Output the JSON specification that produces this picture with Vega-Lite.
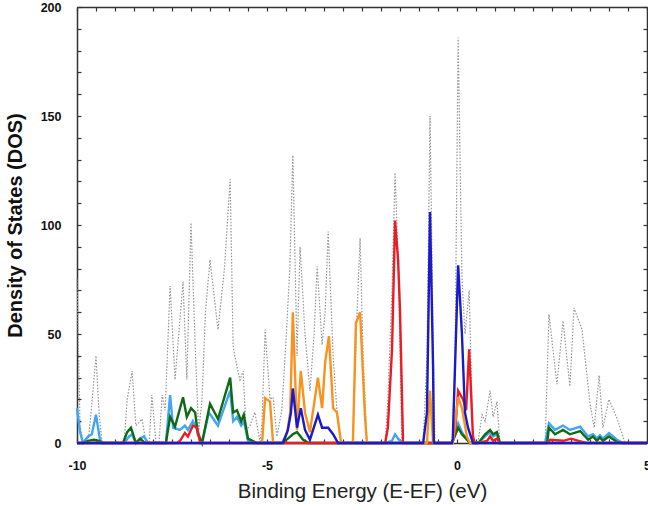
{
  "$schema": "https://vega.github.io/schema/vega-lite/v6.json",
  "width": 570,
  "height": 436,
  "autosize": {"type": "none"},
  "padding": {"left": 77, "top": 7, "right": 1, "bottom": 67},
  "background": "white",
  "config": {"view": {"stroke": null}, "font": "Liberation Sans"},
  "datasets": {
    "total": [
      {"E": -10, "D": 75}, {"E": -9.92, "D": 8}, {"E": -9.84, "D": 0}, {"E": -9.71, "D": 0}, {"E": -9.63, "D": 14}, {"E": -9.5, "D": 40}, {"E": -9.42, "D": 14}, {"E": -9.34, "D": 0},
      {"E": -8.76, "D": 0}, {"E": -8.68, "D": 20}, {"E": -8.55, "D": 33}, {"E": -8.45, "D": 8}, {"E": -8.39, "D": 9}, {"E": -8.29, "D": 11}, {"E": -8.18, "D": 0}, {"E": -8.1, "D": 0}, {"E": -8.03, "D": 22}, {"E": -7.92, "D": 0}, {"E": -7.84, "D": 0},
      {"E": -7.76, "D": 22}, {"E": -7.68, "D": 15}, {"E": -7.55, "D": 72}, {"E": -7.42, "D": 29}, {"E": -7.21, "D": 74}, {"E": -7.11, "D": 29}, {"E": -7.0, "D": 101}, {"E": -6.89, "D": 45}, {"E": -6.8, "D": 5}, {"E": -6.71, "D": 20}, {"E": -6.62, "D": 60}, {"E": -6.5, "D": 84}, {"E": -6.29, "D": 52}, {"E": -6.12, "D": 80},
      {"E": -5.97, "D": 121}, {"E": -5.89, "D": 44}, {"E": -5.79, "D": 35}, {"E": -5.71, "D": 29}, {"E": -5.63, "D": 33}, {"E": -5.55, "D": 6}, {"E": -5.45, "D": 8}, {"E": -5.32, "D": 14}, {"E": -5.18, "D": 0}, {"E": -5.13, "D": 10}, {"E": -5.05, "D": 52}, {"E": -4.92, "D": 20}, {"E": -4.84, "D": 21}, {"E": -4.74, "D": 3},
      {"E": -4.61, "D": 15}, {"E": -4.5, "D": 47}, {"E": -4.4, "D": 80}, {"E": -4.32, "D": 132}, {"E": -4.21, "D": 40}, {"E": -4.13, "D": 90}, {"E": -4.0, "D": 50}, {"E": -3.87, "D": 24}, {"E": -3.76, "D": 50}, {"E": -3.68, "D": 81}, {"E": -3.55, "D": 45}, {"E": -3.47, "D": 60}, {"E": -3.39, "D": 97}, {"E": -3.26, "D": 40}, {"E": -3.16, "D": 15}, {"E": -3.05, "D": 0},
      {"E": -2.74, "D": 0}, {"E": -2.63, "D": 60}, {"E": -2.55, "D": 94}, {"E": -2.47, "D": 40}, {"E": -2.37, "D": 0},
      {"E": -1.89, "D": 0}, {"E": -1.82, "D": 20}, {"E": -1.71, "D": 70}, {"E": -1.63, "D": 124}, {"E": -1.55, "D": 85}, {"E": -1.45, "D": 0},
      {"E": -0.89, "D": 0}, {"E": -0.79, "D": 40}, {"E": -0.71, "D": 150}, {"E": -0.63, "D": 50}, {"E": -0.58, "D": 0},
      {"E": -0.13, "D": 0}, {"E": -0.05, "D": 40}, {"E": 0.03, "D": 186}, {"E": 0.13, "D": 76}, {"E": 0.21, "D": 50}, {"E": 0.32, "D": 70}, {"E": 0.42, "D": 0},
      {"E": 0.55, "D": 0}, {"E": 0.66, "D": 13}, {"E": 0.74, "D": 10}, {"E": 0.87, "D": 24}, {"E": 0.95, "D": 12}, {"E": 1.05, "D": 19}, {"E": 1.13, "D": 0},
      {"E": 2.32, "D": 0}, {"E": 2.42, "D": 59}, {"E": 2.63, "D": 27}, {"E": 2.79, "D": 56}, {"E": 2.97, "D": 26}, {"E": 3.08, "D": 62}, {"E": 3.29, "D": 52}, {"E": 3.5, "D": 18}, {"E": 3.61, "D": 7}, {"E": 3.74, "D": 31}, {"E": 3.84, "D": 7}, {"E": 4.0, "D": 20}, {"E": 4.24, "D": 10}, {"E": 4.42, "D": 0}, {"E": 5, "D": 0}
    ],
    "lightblue": [
      {"E": -10, "D": 16}, {"E": -9.92, "D": 5}, {"E": -9.84, "D": 0}, {"E": -9.71, "D": 3}, {"E": -9.61, "D": 4}, {"E": -9.5, "D": 13}, {"E": -9.4, "D": 2}, {"E": -9.34, "D": 0},
      {"E": -8.76, "D": 0}, {"E": -8.63, "D": 3}, {"E": -8.55, "D": 4}, {"E": -8.45, "D": 0}, {"E": -8.34, "D": 2}, {"E": -8.24, "D": 3}, {"E": -8.13, "D": 0},
      {"E": -7.66, "D": 0}, {"E": -7.55, "D": 22}, {"E": -7.47, "D": 7}, {"E": -7.29, "D": 6}, {"E": -7.16, "D": 8}, {"E": -7.08, "D": 6}, {"E": -6.95, "D": 10}, {"E": -6.84, "D": 6}, {"E": -6.71, "D": 0},
      {"E": -6.53, "D": 14}, {"E": -6.29, "D": 8}, {"E": -5.97, "D": 24}, {"E": -5.89, "D": 10}, {"E": -5.79, "D": 12}, {"E": -5.68, "D": 8}, {"E": -5.61, "D": 10}, {"E": -5.5, "D": 1}, {"E": -5.4, "D": 0},
      {"E": -1.89, "D": 0}, {"E": -1.71, "D": 1}, {"E": -1.63, "D": 4}, {"E": -1.55, "D": 2}, {"E": -1.45, "D": 0},
      {"E": -0.13, "D": 0}, {"E": 0.03, "D": 9}, {"E": 0.13, "D": 5}, {"E": 0.24, "D": 2}, {"E": 0.34, "D": 0},
      {"E": 0.55, "D": 0}, {"E": 0.74, "D": 3}, {"E": 0.87, "D": 5}, {"E": 0.95, "D": 3}, {"E": 1.05, "D": 4}, {"E": 1.13, "D": 0},
      {"E": 2.32, "D": 0}, {"E": 2.42, "D": 9}, {"E": 2.58, "D": 6}, {"E": 2.79, "D": 8}, {"E": 2.97, "D": 6}, {"E": 3.24, "D": 7.5}, {"E": 3.45, "D": 3}, {"E": 3.58, "D": 4}, {"E": 3.68, "D": 2}, {"E": 3.76, "D": 3.5}, {"E": 3.84, "D": 2}, {"E": 4.0, "D": 4.5}, {"E": 4.21, "D": 1.5}, {"E": 4.37, "D": 0}, {"E": 5, "D": 0}
    ],
    "green": [
      {"E": -10, "D": 0}, {"E": -9.84, "D": 0}, {"E": -9.71, "D": 1}, {"E": -9.55, "D": 1.5}, {"E": -9.42, "D": 1}, {"E": -9.34, "D": 0},
      {"E": -8.79, "D": 0}, {"E": -8.68, "D": 5}, {"E": -8.58, "D": 7}, {"E": -8.45, "D": 0}, {"E": -8.34, "D": 2}, {"E": -8.21, "D": 0},
      {"E": -7.66, "D": 0}, {"E": -7.55, "D": 12}, {"E": -7.42, "D": 7.5}, {"E": -7.21, "D": 21}, {"E": -7.11, "D": 12}, {"E": -7.0, "D": 16}, {"E": -6.89, "D": 14}, {"E": -6.82, "D": 4}, {"E": -6.71, "D": 0},
      {"E": -6.5, "D": 18}, {"E": -6.29, "D": 11}, {"E": -5.97, "D": 30}, {"E": -5.89, "D": 14}, {"E": -5.79, "D": 15}, {"E": -5.68, "D": 10}, {"E": -5.61, "D": 13}, {"E": -5.5, "D": 2}, {"E": -5.26, "D": 0},
      {"E": -4.61, "D": 0}, {"E": -4.45, "D": 2}, {"E": -4.32, "D": 4}, {"E": -4.21, "D": 5}, {"E": -4.05, "D": 1.5}, {"E": -3.9, "D": 0},
      {"E": -0.13, "D": 0}, {"E": 0.03, "D": 7}, {"E": 0.13, "D": 4}, {"E": 0.24, "D": 2}, {"E": 0.34, "D": 0},
      {"E": 0.55, "D": 0}, {"E": 0.61, "D": 1}, {"E": 0.74, "D": 4}, {"E": 0.87, "D": 6}, {"E": 0.95, "D": 4}, {"E": 1.05, "D": 5}, {"E": 1.13, "D": 0},
      {"E": 2.37, "D": 0}, {"E": 2.42, "D": 7}, {"E": 2.58, "D": 4}, {"E": 2.79, "D": 6}, {"E": 2.97, "D": 4}, {"E": 3.24, "D": 5.5}, {"E": 3.45, "D": 1.5}, {"E": 3.58, "D": 3}, {"E": 3.68, "D": 1}, {"E": 3.76, "D": 2.5}, {"E": 3.84, "D": 1}, {"E": 4.0, "D": 3}, {"E": 4.21, "D": 0.5}, {"E": 4.37, "D": 0}, {"E": 5, "D": 0}
    ],
    "red": [
      {"E": -10, "D": 0}, {"E": -7.37, "D": 0}, {"E": -7.29, "D": 1}, {"E": -7.16, "D": 4.6}, {"E": -7.08, "D": 3}, {"E": -6.95, "D": 8}, {"E": -6.84, "D": 7}, {"E": -6.76, "D": 0},
      {"E": -1.89, "D": 0}, {"E": -1.82, "D": 7}, {"E": -1.71, "D": 43}, {"E": -1.63, "D": 102}, {"E": -1.55, "D": 84}, {"E": -1.5, "D": 61}, {"E": -1.42, "D": 0},
      {"E": -0.13, "D": 0}, {"E": -0.05, "D": 5}, {"E": 0.03, "D": 24}, {"E": 0.16, "D": 20}, {"E": 0.24, "D": 15}, {"E": 0.32, "D": 43}, {"E": 0.42, "D": 3}, {"E": 0.47, "D": 0},
      {"E": 0.55, "D": 0}, {"E": 0.79, "D": 1}, {"E": 0.87, "D": 3}, {"E": 0.95, "D": 1}, {"E": 1.05, "D": 2}, {"E": 1.13, "D": 0},
      {"E": 2.37, "D": 0}, {"E": 2.45, "D": 1.5}, {"E": 2.8, "D": 1}, {"E": 3.0, "D": 2}, {"E": 3.2, "D": 1}, {"E": 3.4, "D": 0}, {"E": 5, "D": 0}
    ],
    "orange": [
      {"E": -10, "D": 0}, {"E": -5.13, "D": 0}, {"E": -5.05, "D": 20.6}, {"E": -4.92, "D": 19}, {"E": -4.84, "D": 0},
      {"E": -4.61, "D": 0}, {"E": -4.47, "D": 4.6}, {"E": -4.39, "D": 14}, {"E": -4.32, "D": 60}, {"E": -4.21, "D": 6}, {"E": -4.11, "D": 33}, {"E": -4.0, "D": 14}, {"E": -3.87, "D": 5}, {"E": -3.66, "D": 30}, {"E": -3.55, "D": 16}, {"E": -3.47, "D": 37}, {"E": -3.37, "D": 49}, {"E": -3.26, "D": 16}, {"E": -3.16, "D": 14}, {"E": -3.05, "D": 0},
      {"E": -2.74, "D": 0}, {"E": -2.66, "D": 55}, {"E": -2.55, "D": 60}, {"E": -2.47, "D": 30}, {"E": -2.42, "D": 12}, {"E": -2.37, "D": 0},
      {"E": -0.79, "D": 0}, {"E": -0.71, "D": 24}, {"E": -0.63, "D": 0},
      {"E": -0.11, "D": 0}, {"E": 0.03, "D": 21}, {"E": 0.13, "D": 16}, {"E": 0.26, "D": 3}, {"E": 0.34, "D": 0}, {"E": 5, "D": 0}
    ],
    "blue": [
      {"E": -10, "D": 0}, {"E": -4.58, "D": 0}, {"E": -4.45, "D": 6}, {"E": -4.37, "D": 14}, {"E": -4.32, "D": 25}, {"E": -4.21, "D": 7}, {"E": -4.11, "D": 16}, {"E": -4.0, "D": 6}, {"E": -3.87, "D": 1.5}, {"E": -3.66, "D": 13}, {"E": -3.55, "D": 7}, {"E": -3.39, "D": 7}, {"E": -3.26, "D": 4}, {"E": -3.13, "D": 0},
      {"E": -0.89, "D": 0}, {"E": -0.79, "D": 14}, {"E": -0.71, "D": 106}, {"E": -0.63, "D": 35}, {"E": -0.61, "D": 0},
      {"E": -0.13, "D": 0}, {"E": -0.11, "D": 2}, {"E": 0.03, "D": 81.5}, {"E": 0.13, "D": 50}, {"E": 0.21, "D": 14}, {"E": 0.29, "D": 7}, {"E": 0.42, "D": 0}, {"E": 5, "D": 0}
    ]
  },
  "layer": [
    {
      "data": {"name": "total"},
      "mark": {"type": "line", "color": "#949494", "strokeWidth": 1.2, "strokeDash": [1.5, 1.6]},
      "encoding": {
        "x": {"field": "E", "type": "quantitative", "scale": {"domain": [-10, 5], "nice": false, "zero": false},
          "axis": {"orient": "bottom", "values": [-10,-9.5,-9,-8.5,-8,-7.5,-7,-6.5,-6,-5.5,-5,-4.5,-4,-3.5,-3,-2.5,-2,-1.5,-1,-0.5,0,0.5,1,1.5,2,2.5,3,3.5,4,4.5,5],
            "labelExpr": "datum.value % 5 === 0 ? toString(datum.value) : ''", "labelOverlap": false, "labelFlush": false,
            "labelFontWeight": "bold", "labelFontSize": 12.5, "labelColor": "#111", "labelPadding": 20,
            "tickSize": -4, "tickColor": "#333", "tickWidth": 1.2, "domainColor": "#333", "domainWidth": 1.5, "grid": false,
            "title": "Binding Energy (E-EF) (eV)", "titleFontSize": 20.5, "titleFontWeight": "normal", "titleColor": "#222", "titlePadding": 10}},
        "y": {"field": "D", "type": "quantitative", "scale": {"domain": [0, 200], "nice": false},
          "axis": {"orient": "left", "values": [0,10,20,30,40,50,60,70,80,90,100,110,120,130,140,150,160,170,180,190,200],
            "labelExpr": "datum.value % 50 === 0 ? toString(datum.value) : ''", "labelOverlap": false, "labelFlush": false,
            "labelFontWeight": "bold", "labelFontSize": 12.5, "labelColor": "#111", "labelPadding": 20,
            "tickSize": -4, "tickColor": "#333", "tickWidth": 1.2, "domainColor": "#333", "domainWidth": 1.5, "grid": false,
            "title": "Density of States (DOS)", "titleFontSize": 20, "titleFontWeight": "bold", "titleColor": "#111", "titlePadding": 15}}
      }
    },
    {
      "data": {"name": "lightblue"},
      "mark": {"type": "line", "color": "#40a6f2", "strokeWidth": 2.4},
      "encoding": {
        "x": {"field": "E", "type": "quantitative",
          "axis": {"orient": "top", "values": [-10,-9.5,-9,-8.5,-8,-7.5,-7,-6.5,-6,-5.5,-5,-4.5,-4,-3.5,-3,-2.5,-2,-1.5,-1,-0.5,0,0.5,1,1.5,2,2.5,3,3.5,4,4.5,5],
            "labels": false, "tickSize": -4, "tickColor": "#333", "tickWidth": 1.2, "domainColor": "#333", "domainWidth": 1.5, "grid": false, "title": null}},
        "y": {"field": "D", "type": "quantitative",
          "axis": {"orient": "right", "values": [0,10,20,30,40,50,60,70,80,90,100,110,120,130,140,150,160,170,180,190,200],
            "labels": false, "tickSize": -4, "tickColor": "#333", "tickWidth": 1.2, "domainColor": "#333", "domainWidth": 1.5, "grid": false, "title": null}}
      }
    },
    {
      "data": {"name": "green"},
      "mark": {"type": "line", "color": "#0e6b14", "strokeWidth": 2.4},
      "encoding": {"x": {"field": "E", "type": "quantitative", "axis": null}, "y": {"field": "D", "type": "quantitative", "axis": null}}
    },
    {
      "data": {"name": "red"},
      "mark": {"type": "line", "color": "#ec1c24", "strokeWidth": 2.4},
      "encoding": {"x": {"field": "E", "type": "quantitative", "axis": null}, "y": {"field": "D", "type": "quantitative", "axis": null}}
    },
    {
      "data": {"name": "orange"},
      "mark": {"type": "line", "color": "#f7931e", "strokeWidth": 2.4},
      "encoding": {"x": {"field": "E", "type": "quantitative", "axis": null}, "y": {"field": "D", "type": "quantitative", "axis": null}}
    },
    {
      "data": {"name": "blue"},
      "mark": {"type": "line", "color": "#1a1ac8", "strokeWidth": 2.4},
      "encoding": {"x": {"field": "E", "type": "quantitative", "axis": null}, "y": {"field": "D", "type": "quantitative", "axis": null}}
    }
  ],
  "resolve": {"axis": {"x": "independent", "y": "independent"}}
}
